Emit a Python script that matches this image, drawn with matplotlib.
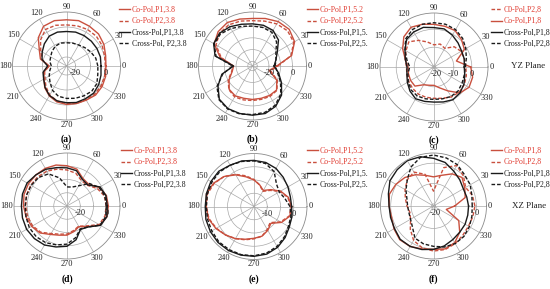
import numpy as np
import matplotlib
matplotlib.use('Agg')
import matplotlib.pyplot as plt
from matplotlib.transforms import offset_copy, Bbox

plt.rcParams['font.family'] = ['Liberation Serif', 'DejaVu Serif']

angles_deg = list(range(0, 360, 15))
theta_ticks = list(range(0, 360, 30))
theta_labels = [str(a) for a in theta_ticks]

# ---- (a) YZ plane, 3.8 ----
a_co_p1 = [0.3, 1.0, 2.8, 4.2, 4.6, 5.3, 4.8, 5.3, 4.6, 0.6, -5.1, -8.0, -14.5, -10.2, -8.7, -5.5, -3.0, -1.2, -0.4, -0.1, 0.3, 1.4, 1.4, 1.0]
a_co_p2 = [-0.1, 0.3, 1.4, 2.1, 2.1, 1.7, 1.4, 2.1, 2.1, -1.5, -6.2, -9.1, -14.1, -10.9, -9.4, -6.6, -3.7, -1.9, -0.8, -0.4, -0.1, 0.6, 0.6, 0.3]
a_x_p1 = [-3.0, -2.6, -2.6, -2.6, -2.6, -2.6, -3.0, -2.6, -3.0, -5.1, -7.3, -9.1, -13.4, -9.8, -8.4, -5.8, -3.3, -1.9, -1.5, -0.8, -0.8, -0.4, -1.2, -2.2]
a_x_p2 = [-5.1, -5.8, -7.3, -8.7, -9.8, -10.2, -10.5, -10.2, -10.9, -12.3, -13.8, -14.5, -15.9, -14.5, -12.7, -10.5, -7.3, -5.1, -4.4, -3.7, -3.0, -2.2, -2.6, -4.4]

# ---- (b) YZ plane, 5.2 ----
b_co_p1 = [-13.3, 0.5, 7.4, 10.2, 9.7, 7.9, 6.5, 7.4, 8.8, 7.4, 3.7, -5.5, -17.9, -16.1, -11.0, -5.9, -4.6, -5.5, -5.5, -5.5, -5.0, -5.0, -10.1, -19.3]
b_co_p2 = [-12.4, 0.0, 6.5, 8.3, 7.4, 5.6, 4.6, 5.6, 6.5, 5.6, 1.9, -6.4, -17.4, -15.6, -10.1, -5.5, -3.6, -4.1, -4.6, -4.6, -4.1, -4.6, -9.6, -17.9]
b_x_p1 = [-15.6, -13.3, -9.6, -2.7, 1.0, 1.9, 1.9, 2.8, 4.6, 5.6, 4.2, -1.0, -17.9, -7.0, 0.0, 6.0, 7.9, 7.9, 7.9, 7.9, 5.6, 1.0, -5.5, -11.0]
b_x_p2 = [-14.7, -13.3, -11.0, -5.0, -0.9, 0.0, 0.0, 1.0, 2.8, 4.6, 3.7, -1.8, -17.0, -7.8, 1.0, 6.5, 8.3, 8.3, 7.4, 6.9, 4.6, 0.0, -6.4, -11.9]

# ---- (c) YZ plane, 8 ----
c_co_p2 = [-3.3, -3.6, -3.6, -5.1, -9.0, -7.8, -8.7, -6.6, -3.9, -1.2, -3.0, -4.5, -5.7, -5.4, -4.8, -4.2, -3.6, -3.6, -3.6, -3.0, -1.8, -1.2, -1.5, -2.4]
c_co_p1 = [-0.6, -8.1, -1.5, 0.6, 2.4, 2.4, 2.7, 3.6, 4.5, 2.7, -0.9, -4.5, -6.6, -6.3, -6.0, -6.0, -9.6, -10.5, -10.8, -9.0, -5.7, -0.6, 1.5, 1.2]
c_x_p1 = [-4.2, -3.6, -3.3, -2.1, -0.6, 0.9, 0.9, 1.8, 1.5, 0.6, -2.4, -4.5, -6.0, -5.4, -3.9, -2.1, -0.6, -1.2, -1.5, -0.9, 0.0, -0.6, -1.8, -3.3]
c_x_p2 = [-3.6, -2.4, -0.6, 1.5, 3.0, 3.6, 3.6, 3.6, 3.0, 1.2, -2.4, -5.4, -7.5, -6.0, -4.5, -3.0, -2.4, -2.7, -3.0, -2.7, -2.1, -2.1, -3.0, -3.6]

# ---- (d) XZ plane, 3.8 ----
d_co_p1 = [1.2, 0.8, -2.0, -6.8, -6.0, -1.2, 0.4, 2.0, 2.8, 3.2, 3.6, 3.6, 2.8, 2.0, 0.8, -1.2, -5.2, -7.2, -8.0, -10.0, -12.0, -8.0, -1.2, 1.2]
d_co_p2 = [-0.4, -0.8, -3.6, -8.0, -8.0, -4.4, -2.8, -1.2, 0.4, 1.2, 1.6, 1.6, 1.2, 0.8, 0.0, -2.0, -6.0, -8.0, -8.8, -10.8, -12.4, -8.8, -2.0, -0.4]
d_x_p1 = [0.4, 0.4, -1.2, -7.6, -6.8, -2.4, -1.2, 0.0, 2.0, 3.2, 4.8, 4.8, 4.4, 4.8, 5.2, 4.8, 4.0, 2.0, 0.4, -3.6, -9.6, -7.6, -0.8, 1.2]
d_x_p2 = [-0.4, -0.4, -2.0, -6.0, -12.4, -15.2, -15.6, -8.0, -2.0, 0.4, 1.2, 1.6, 1.6, 2.0, 2.8, 2.8, 2.0, 0.4, -1.2, -5.2, -10.0, -7.6, -1.2, 0.4]

# ---- (e) XZ plane, 5.2 ----
e_co_p1 = [-0.8, -1.6, -3.4, -6.0, -8.0, -6.6, -5.0, -3.4, -1.2, 1.0, 2.6, 3.6, 3.0, 2.8, 1.6, 0.2, -1.0, -2.2, -3.0, -3.4, -4.6, -6.0, -3.0, -1.0]
e_co_p2 = [-1.0, -1.8, -3.6, -6.4, -8.4, -6.6, -4.8, -3.0, -1.0, 1.0, 2.4, 3.2, 3.0, 2.6, 1.4, 0.2, -1.0, -2.0, -2.8, -3.4, -5.0, -6.4, -3.4, -1.2]
e_x_p1 = [-0.8, -0.8, -0.2, 0.6, 1.6, 2.2, 2.4, 2.8, 3.0, 3.8, 3.8, 3.6, 3.4, 3.8, 4.0, 4.2, 4.2, 4.0, 3.8, 3.6, 2.8, 1.6, 0.4, -0.2]
e_x_p2 = [-1.4, -3.0, -4.0, -3.0, 0.2, 1.8, 2.2, 2.6, 3.0, 3.4, 3.4, 3.2, 3.0, 3.2, 3.4, 3.8, 3.8, 3.8, 3.6, 3.2, 2.4, 1.2, 0.0, -0.6]

# ---- (f) XZ plane, 8 ----
f_co_p1 = [-10.6, -4.9, -3.3, -1.2, -2.8, -5.4, -6.7, -5.4, -3.3, -1.2, 0.3, 1.4, 0.8, 0.3, 1.4, 2.4, 1.9, 0.8, 0.3, 0.8, -0.2, -2.8, -6.7, -14.5]
f_co_p2 = [-0.7, -1.2, -2.8, -0.2, 1.9, -1.5, -13.7, -4.9, -1.8, -2.8, -4.9, -6.7, -8.0, -9.0, -8.0, -4.9, -1.5, 0.3, 1.1, 1.1, 0.3, -0.7, -1.2, -1.0]
f_x_p1 = [-3.8, -4.1, -4.1, -2.8, -1.2, 1.1, 2.4, 4.0, 4.7, 4.2, 3.7, 1.9, 0.8, 0.8, 1.1, 2.1, 1.9, 1.1, 0.3, -0.7, -2.0, -2.8, -3.1, -3.6]
f_x_p2 = [-2.0, -1.5, -0.2, 0.6, 2.4, 3.4, 4.0, 3.7, 1.1, -2.8, -5.4, -7.5, -8.3, -8.5, -8.0, -6.4, -2.8, -1.8, -1.2, -0.2, 0.3, 0.1, -0.7, -1.5]

labels_a = ['Co-Pol,P1,3.8', 'Co-Pol,P2,3.8', 'Cross-Pol,P1,3.8', 'Cross-Pol, P2,3.8']
labels_b = ['Co-Pol,P1,5.2', 'Co-Pol,P2,5.2', 'Cross-Pol,P1,5.2', 'Cross-Pol,P2,5.2']
labels_c = ['C0-Pol,P2,8', 'Co-Pol,P1,8', 'Cross-Pol,P1,8', 'Cross-Pol,P2,8']
labels_d = ['Co-Pol,P1,3.8', 'Co-Pol,P2,3.8', 'Cross-Pol,P1,3.8', 'Cross-Pol,P2,3.8']
labels_e = ['Co-Pol,P1,5.2', 'Co-Pol,P2,5.2', 'Cross-Pol,P1,5.2', 'Cross-Pol,P2,5.2']
labels_f = ['Co-Pol,P1,8', 'Co-Pol,P2,8', 'Cross-Pol,P1,8', 'Cross-Pol,P2,8']

RED = '#c9503e'
RED_TXT = '#e0392e'
BLK = '#1a1a1a'
DASH = (0, (2.6, 1.4))

W, H = 550, 289
fig = plt.figure(figsize=(W / 100, H / 100), dpi=100)

panels = [
    dict(c=(66.5, 66, 54), lim=(-26, 10), rings=[-20, -10, 0], rlab=[-20, 0],
         s=[(a_co_p1, RED, '-'), (a_co_p2, RED, DASH), (a_x_p1, BLK, '-'), (a_x_p2, BLK, DASH)],
         lab=labels_a, leg=(119, 6), tag='(a)', clip=None),
    dict(c=(252.5, 66, 54), lim=(-34, 12), rings=[-30, -20, -10, 0], rlab=[-20, 0],
         s=[(b_co_p1, RED, '-'), (b_co_p2, RED, DASH), (b_x_p1, BLK, '-'), (b_x_p2, BLK, DASH)],
         lab=labels_b, leg=(307, 6), tag='(b)', clip=368),
    dict(c=(434, 67, 54), lim=(-21, 9), rings=[-20, -10, 0], rlab=[-20, -10, 0],
         s=[(c_co_p2, RED, DASH), (c_co_p1, RED, '-'), (c_x_p1, BLK, '-'), (c_x_p2, BLK, DASH)],
         lab=labels_c, leg=(491, 6), tag='(c)', clip=None),
    dict(c=(67, 206, 53), lim=(-30, 10), rings=[-20, -10, 0], rlab=[-20, 0],
         s=[(d_co_p1, RED, '-'), (d_co_p2, RED, DASH), (d_x_p1, BLK, '-'), (d_x_p2, BLK, DASH)],
         lab=labels_d, leg=(121, 147), tag='(d)', clip=None),
    dict(c=(254, 206.5, 53), lim=(-15, 5), rings=[-10, -5, 0], rlab=[-10, 0],
         s=[(e_co_p1, RED, '-'), (e_co_p2, RED, DASH), (e_x_p1, BLK, '-'), (e_x_p2, BLK, DASH)],
         lab=labels_e, leg=(307, 147), tag='(e)', clip=368),
    dict(c=(433.5, 206, 53), lim=(-21, 5), rings=[-20, -10, 0], rlab=[-20, 0],
         s=[(f_co_p1, RED, '-'), (f_co_p2, RED, DASH), (f_x_p1, BLK, '-'), (f_x_p2, BLK, DASH)],
         lab=labels_f, leg=(491, 147), tag='(f)', clip=None),
]

theta = np.deg2rad(angles_deg + [360])
CHAR_W, TXT_H, GAP = 3.4, 5.5, 1.8

for p in panels:
    cx, cy, R = p['c']
    ax = fig.add_axes([(cx - R) / W, (H - cy - R) / H, 2 * R / W, 2 * R / H], projection='polar')
    ax.set_facecolor('white')
    lines = []
    for vals, col, ls in p['s']:
        ln, = ax.plot(theta, list(vals) + [vals[0]], color=col, ls=ls, lw=1.0)
        lines.append(ln)
    ax.set_ylim(*p['lim'])
    ax.set_thetagrids(theta_ticks, labels=[''] * len(theta_ticks))
    ax.set_rgrids(p['rings'], labels=[''] * len(p['rings']))
    ax.grid(True, color='#a8a8a8', lw=0.5)
    ax.spines['polar'].set_color('#8a8a8a')
    ax.spines['polar'].set_linewidth(0.6)
    # angle labels just outside the rim
    for ang, lab in zip(theta_ticks, theta_labels):
        t = np.deg2rad(ang)
        w = CHAR_W * len(lab)
        d = R + GAP + abs(np.cos(t)) * w / 2 + abs(np.sin(t)) * TXT_H / 2
        px, py = cx + d * np.cos(t), cy - d * np.sin(t)
        fig.text(px / W, 1 - py / H, lab, ha='center', va='center', fontsize=6, color='#222222')
    tr = offset_copy(ax.transData, fig=fig, x=0, y=-2.5, units='points')
    for v in p['rlab']:
        ax.text(0, v, str(v), transform=tr, ha='center', va='top', fontsize=6, color='#222222')
    leg = ax.legend(lines, p['lab'], loc='upper left',
                    bbox_to_anchor=(p['leg'][0] / W, 1 - p['leg'][1] / H),
                    bbox_transform=fig.transFigure, frameon=False, fontsize=5.6,
                    handlelength=1.35, handletextpad=0.3, labelspacing=0.42,
                    borderpad=0, borderaxespad=0)
    for t, col in zip(leg.get_texts(), [RED_TXT, RED_TXT, BLK, BLK]):
        t.set_color(col)
        if p['clip'] is not None:
            t.set_clip_box(Bbox([[0, 0], [p['clip'], H]]))
            t.set_clip_on(True)
    fig.text(cx / W, 1 - (cy + 73) / H, p['tag'], ha='center', va='center',
             fontsize=7, fontweight='bold')

fig.text(528 / W, 1 - 66 / H, 'YZ Plane', ha='center', va='center', fontsize=6.5, color='#222222')
fig.text(529 / W, 1 - 206 / H, 'XZ Plane', ha='center', va='center', fontsize=6.5, color='#222222')

fig.savefig('out.png', dpi=100, facecolor='white')
